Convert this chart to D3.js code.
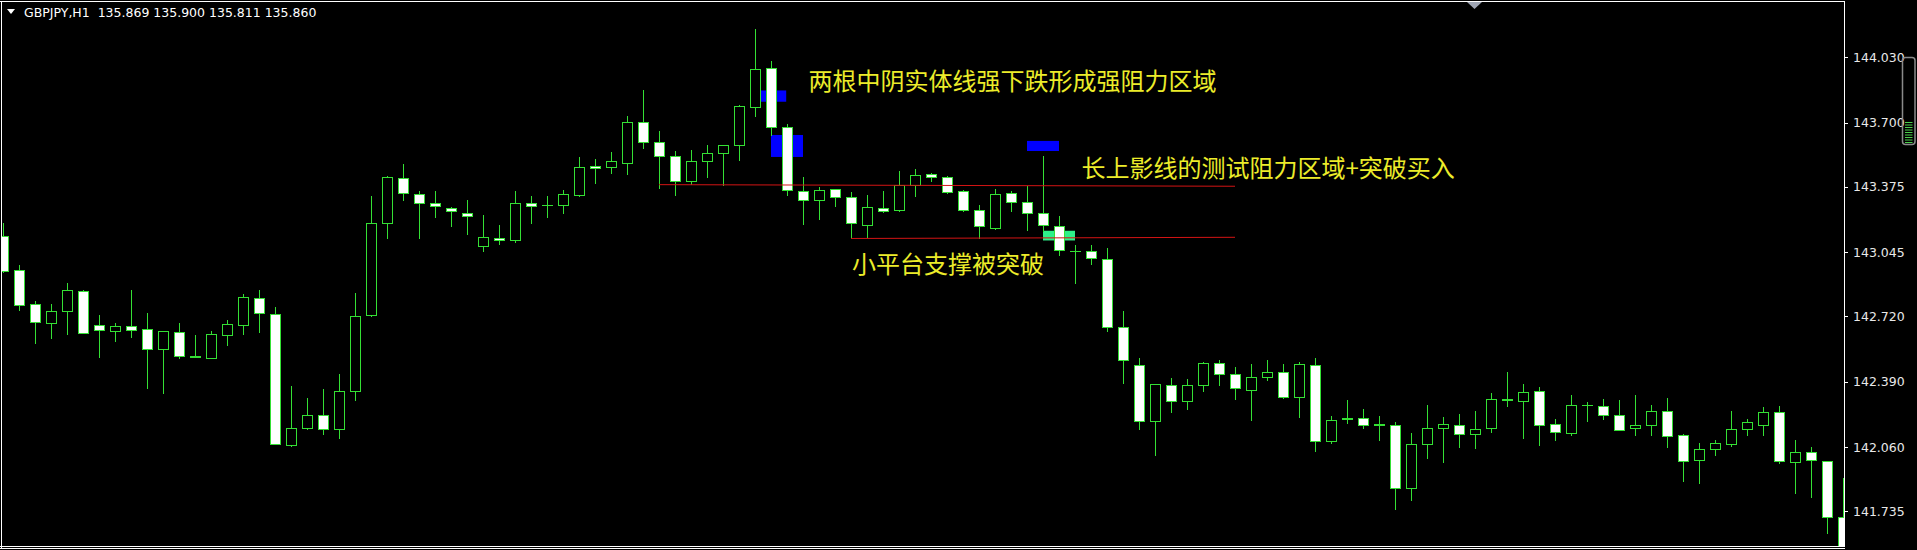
<!DOCTYPE html>
<html><head><meta charset="utf-8">
<script src="https://cdn.jsdelivr.net/npm/d3@7"></script>
<style>html,body{margin:0;padding:0;background:#000;overflow:hidden}</style>
</head><body>
<svg id="c" width="1917" height="550"></svg>
<script>
// ---- data (GBPJPY H1) ----
const opens = [143.127,142.955,142.781,142.686,142.748,142.849,142.679,142.645,142.672,142.656,
142.555,142.640,142.517,142.512,142.624,142.679,142.811,142.730,142.073,142.154,
142.222,142.151,142.342,142.726,143.191,143.419,143.338,143.292,143.270,143.244,
143.075,143.118,143.104,143.292,143.283,143.281,143.336,143.479,143.474,143.497,
143.701,143.600,143.529,143.403,143.504,143.548,143.586,143.777,143.974,143.676,
143.355,143.307,143.362,143.322,143.182,143.267,143.256,143.384,143.439,143.423,
143.354,143.256,143.169,143.345,143.297,143.242,143.176,143.052,143.051,143.010,
142.666,142.477,142.193,142.376,142.294,142.372,142.484,142.427,142.347,142.413,
142.438,142.312,142.477,142.090,142.203,142.206,142.174,142.174,141.853,142.075,
142.156,142.170,142.126,142.154,142.301,142.291,142.344,142.175,142.133,142.273,
142.268,142.222,142.154,142.170,142.243,142.121,141.993,142.048,142.078,142.151,
142.174,142.236,141.984,142.034,141.989,141.706];
const highs = [143.192,142.982,142.796,142.781,142.891,142.852,142.728,142.689,142.856,142.739,
142.648,142.689,142.627,142.645,142.703,142.834,142.854,142.767,142.370,142.308,
142.353,142.431,142.840,143.327,143.430,143.490,143.352,143.354,143.272,143.309,
143.233,143.183,143.354,143.329,143.329,143.359,143.525,143.517,143.552,143.733,
143.862,143.658,143.557,143.561,143.587,143.588,143.791,144.172,144.009,143.690,
143.423,143.375,143.364,143.348,143.332,143.354,143.455,143.465,143.447,143.430,
143.357,143.283,143.362,143.354,143.377,143.531,143.226,143.079,143.082,143.067,
142.746,142.512,142.378,142.409,142.406,142.491,142.498,142.466,142.480,142.498,
142.480,142.491,142.512,142.216,142.299,142.250,142.218,142.186,142.131,142.273,
142.211,142.227,142.243,142.335,142.441,142.379,142.365,142.202,142.324,142.289,
142.305,142.299,142.324,142.273,142.308,142.126,142.082,142.098,142.243,142.202,
142.262,142.268,142.098,142.060,141.991,141.904];
const lows = [142.946,142.751,142.586,142.609,142.633,142.634,142.516,142.597,142.618,142.360,
142.331,142.512,142.516,142.509,142.574,142.633,142.643,142.074,142.066,142.149,
142.128,142.105,142.299,142.724,143.114,143.306,143.118,143.221,143.175,143.136,
143.049,143.088,143.097,143.194,143.224,143.245,143.327,143.396,143.446,143.442,
143.573,143.371,143.332,143.391,143.423,143.385,143.513,143.734,143.637,143.334,
143.189,143.210,143.276,143.114,143.121,143.247,143.255,143.331,143.403,143.345,
143.255,143.118,143.164,143.251,143.159,143.150,143.029,142.888,142.987,142.648,
142.383,142.149,142.020,142.237,142.250,142.342,142.374,142.303,142.197,142.397,
142.308,142.211,142.039,142.083,142.181,142.158,142.094,141.747,141.791,142.004,
141.986,142.059,142.055,142.137,142.268,142.105,142.073,142.094,142.119,142.190,
142.200,142.144,142.122,142.122,142.059,141.887,141.881,142.018,142.064,142.119,
142.122,141.979,141.830,141.809,141.626,141.520];
const closes = [142.950,142.778,142.693,142.748,142.852,142.636,142.650,142.672,142.654,142.555,
142.647,142.519,142.518,142.631,142.680,142.817,142.737,142.075,142.156,142.222,
142.151,142.342,142.721,143.191,143.424,143.343,143.292,143.277,143.253,143.226,
143.120,143.106,143.293,143.277,143.284,143.338,143.474,143.472,143.504,143.701,
143.600,143.529,143.403,143.504,143.545,143.587,143.782,143.970,143.676,143.357,
143.307,143.357,143.323,143.191,143.272,143.254,143.384,143.435,143.426,143.350,
143.256,143.176,143.339,143.297,143.242,143.182,143.054,143.053,143.013,142.666,
142.500,142.193,142.377,142.294,142.372,142.484,142.429,142.360,142.413,142.438,
142.312,142.478,142.090,142.199,142.206,142.172,142.175,141.853,142.075,142.156,
142.175,142.128,142.151,142.303,142.296,142.338,142.170,142.137,142.273,142.274,
142.222,142.145,142.172,142.243,142.115,141.989,142.051,142.080,142.151,142.186,
142.236,141.989,142.034,141.995,141.706,141.550];

const priceTicks = [144.030, 143.700, 143.375, 143.045, 142.720, 142.390, 142.060, 141.735];
const headerText = "GBPJPY,H1  135.869 135.900 135.811 135.860";

// zones: [startBar, endBar, topPrice, bottomPrice, colour]
const zoneRects = [
  [47.35, 48.95, 143.862, 143.805, "#0000ff"],
  [48.0, 50.0, 143.637, 143.526, "#0000ff"],
  [64.0, 66.0, 143.607, 143.556, "#0000ff"],
  [65.0, 67.0, 143.153, 143.104, "#2ef08a"]
];
// trend lines: [bar1, price1, bar2, price2]
const trendLines = [
  [41, 143.386, 77, 143.378],
  [53, 143.114, 77, 143.120]
];
const noteTexts = ["两根中阴实体线强下跌形成强阻力区域", "长上影线的测试阻力区域+突破买入", "小平台支撑被突破"];
const noteBars = [50.34, 67.4, 53.06];
const notePrices = [143.915, 143.477, 142.991];

// ---- drawing ----
const svg = d3.select("#c");
const W = 1917, H = 550, plotR = 1844, plotB = 546;
svg.append("rect").attr("width", W).attr("height", H).attr("fill", "#000");

const x = d3.scaleLinear().domain([0, opens.length - 1]).range([3, 3 + 16 * (opens.length - 1)]);
const y = d3.scaleLinear().domain([141.735, 144.030]).range([511.4, 57.2]);

svg.append("defs").append("clipPath").attr("id", "plot")
  .append("rect").attr("x", 2).attr("y", 2).attr("width", plotR - 2).attr("height", plotB - 2);

const plot = svg.append("g").attr("clip-path", "url(#plot)");

// zones (background objects)
plot.append("g").selectAll("rect").data(zoneRects).join("rect")
  .attr("x", d => x(d[0])).attr("width", d => x(d[1]) - x(d[0]))
  .attr("y", d => y(d[2])).attr("height", d => y(d[3]) - y(d[2]))
  .attr("fill", d => d[4]);

const GREEN = "#34e034";
const bars = d3.range(opens.length).map(i => ({i, o: opens[i], h: highs[i], l: lows[i], c: closes[i]}));
const cg = plot.append("g").attr("shape-rendering", "crispEdges");
const candle = cg.selectAll("g").data(bars).join("g");
candle.append("line")
  .attr("x1", d => Math.round(x(d.i)) + 0.5).attr("x2", d => Math.round(x(d.i)) + 0.5)
  .attr("y1", d => Math.round(y(d.h))).attr("y2", d => Math.round(y(d.l)) + 1)
  .attr("stroke", GREEN).attr("stroke-width", 1);
candle.each(function(d) {
  const g = d3.select(this);
  const cx = Math.round(x(d.i));
  const top = Math.round(y(Math.max(d.o, d.c)));
  const bot = Math.round(y(Math.min(d.o, d.c)));
  if (bot - top < 1) {
    g.append("line").attr("x1", cx - 5).attr("x2", cx + 6)
      .attr("y1", top + 0.5).attr("y2", top + 0.5)
      .attr("stroke", GREEN).attr("stroke-width", 1);
  } else {
    g.append("rect").attr("x", cx - 4.5).attr("width", 10)
      .attr("y", top + 0.5).attr("height", bot - top)
      .attr("fill", d.c < d.o ? "#ffffff" : "#000000")
      .attr("stroke", GREEN).attr("stroke-width", 1);
  }
});

// trend lines
plot.append("g").selectAll("line").data(trendLines).join("line")
  .attr("x1", d => x(d[0])).attr("y1", d => y(d[1]))
  .attr("x2", d => x(d[2])).attr("y2", d => y(d[3]))
  .attr("stroke", "#d41414").attr("stroke-width", 1);

// notes
plot.append("g").selectAll("text").data(noteTexts).join("text")
  .attr("x", (d, i) => x(noteBars[i])).attr("y", (d, i) => y(notePrices[i]))
  .attr("dominant-baseline", "central")
  .attr("font-family", "'Noto Sans CJK SC', sans-serif").attr("font-size", 24)
  .attr("fill", "#ecec2a").text(d => d);

// frame
const frame = svg.append("g").attr("stroke", "#ffffff").attr("stroke-width", 1).attr("shape-rendering", "crispEdges");
frame.append("line").attr("x1", 0).attr("x2", plotR + 1).attr("y1", 1.5).attr("y2", 1.5);
frame.append("line").attr("x1", 1.5).attr("x2", 1.5).attr("y1", 1).attr("y2", plotB + 3);
frame.append("line").attr("x1", plotR + 0.5).attr("x2", plotR + 0.5).attr("y1", 1).attr("y2", plotB + 1);
frame.append("line").attr("x1", 0).attr("x2", plotR + 1).attr("y1", plotB + 0.5).attr("y2", plotB + 0.5);
frame.append("line").attr("x1", 0).attr("x2", plotR + 1).attr("y1", plotB + 2.5).attr("y2", plotB + 2.5);

// price axis
const axis = svg.append("g").attr("transform", `translate(${plotR + 1},0)`)
  .call(d3.axisRight(y).tickValues(priceTicks).tickFormat(d3.format(".3f")).tickSize(3).tickPadding(5));
axis.select(".domain").remove();
axis.selectAll(".tick line").attr("stroke", "#ffffff").attr("shape-rendering", "crispEdges");
axis.selectAll(".tick text").attr("fill", "#e8e8e8")
  .attr("font-family", "'DejaVu Sans', sans-serif").attr("font-size", 12.5);

// header
svg.append("path").attr("d", "M7,9 L15,9 L11,14 Z").attr("fill", "#ffffff");
svg.append("text").attr("x", 24).attr("y", 17.3).attr("fill", "#ffffff")
  .attr("font-family", "'DejaVu Sans', sans-serif").attr("font-size", 12.5)
  .attr("xml:space", "preserve").style("white-space", "pre").text(headerText);

// chart-shift marker
svg.append("path").attr("d", "M1467,2 L1482,2 L1474.5,9 Z").attr("fill", "#9ea4b2");

// right-side widget
svg.append("rect").attr("x", 1902.5).attr("y", 57.5).attr("width", 12.5).attr("height", 87)
  .attr("rx", 3).attr("fill", "none").attr("stroke", "#8a8a8a").attr("stroke-width", 1.5);
svg.append("g").selectAll("line").data(d3.range(9)).join("line")
  .attr("x1", 1905).attr("x2", 1912.5)
  .attr("y1", d => 122.5 + d * 2.5).attr("y2", d => 122.5 + d * 2.5)
  .attr("stroke", "#4ccf4c").attr("stroke-width", 1);
</script>
</body></html>
